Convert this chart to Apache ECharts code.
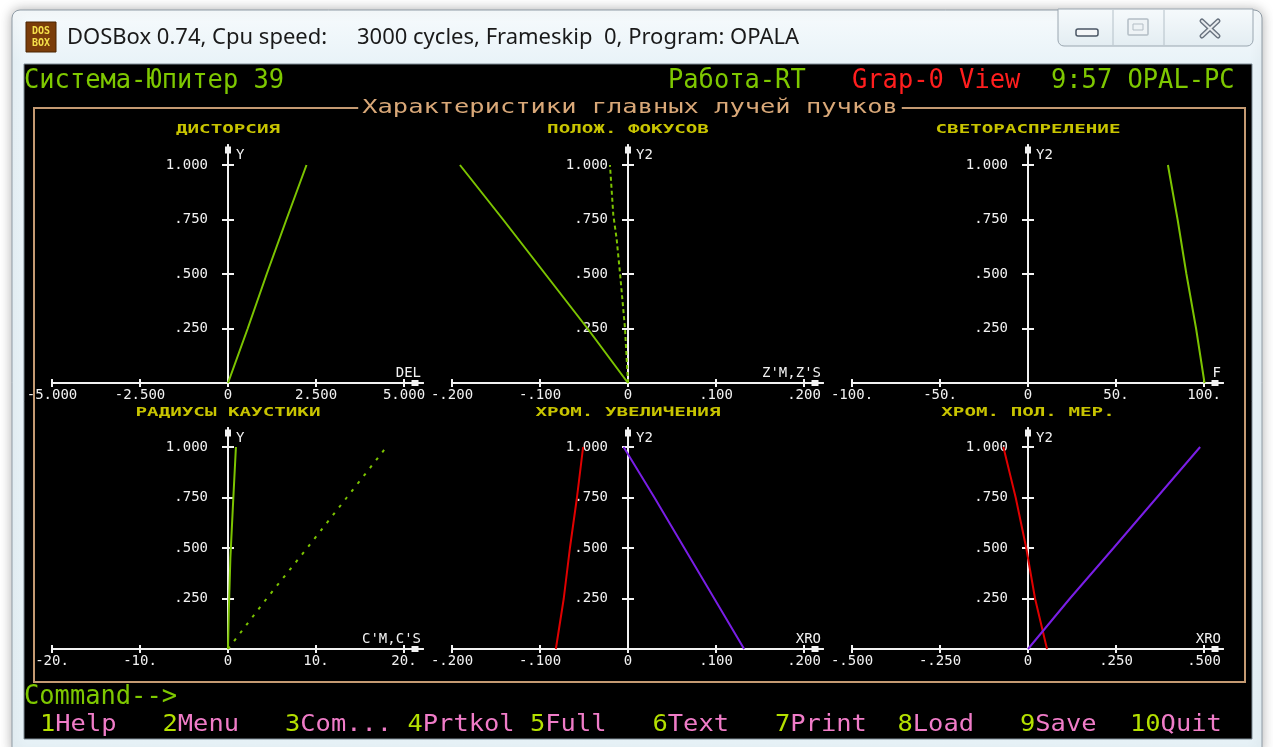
<!DOCTYPE html>
<html>
<head>
<meta charset="utf-8">
<title>OPALA - Характеристики главных лучей пучков</title>
<script src="https://cdn.jsdelivr.net/npm/echarts@6/dist/echarts.min.js"></script>
<style>
  html, body { margin: 0; padding: 0; background: #ffffff; }
  #chart { width: 1273px; height: 747px; }
</style>
</head>
<body>
<div id="chart"></div>
<script>
var yTicks = [0.25, 0.5, 0.75, 1.0];
var yTickLabels = ['.250', '.500', '.750', '1.000'];

// ДИСТОРСИЯ
var distortionTicks = [-5, -2.5, 0, 2.5, 5];
var distortionTickLabels = ['-5.000', '-2.500', '0', '2.500', '5.000'];
var distortion = [[0, 0], [0.56, 0.25], [1.1, 0.5], [1.66, 0.75], [2.23, 1.0]];

// ПОЛОЖ. ФОКУСОВ
var focusTicks = [-0.2, -0.1, 0, 0.1, 0.2];
var focusTickLabels = ['-.200', '-.100', '0', '.100', '.200'];
var focusM = [[0, 0], [-0.046, 0.25], [-0.094, 0.5], [-0.142, 0.75], [-0.191, 1.0]];
var focusS = [[0, 0], [-0.0034, 0.25], [-0.009, 0.5], [-0.013, 0.664], [-0.0167, 0.771], [-0.0205, 1.0]];

// СВЕТОРАСПРЕЛЕНИЕ
var lightTicks = [-100, -50, 0, 50, 100];
var lightTickLabels = ['-100.', '-50.', '0', '50.', '100.'];
var light = [[100.3, 0], [95.5, 0.25], [90, 0.5], [85, 0.75], [79.5, 1.0]];

// РАДИУСЫ КАУСТИКИ
var causticTicks = [-20, -10, 0, 10, 20];
var causticTickLabels = ['-20.', '-10.', '0', '10.', '20.'];
var causticM = [[0, 0], [0.1, 0.2], [0.27, 0.45], [0.55, 0.7], [0.9, 1.0]];
var causticS = [[0, 0], [4.4, 0.25], [9, 0.5], [13.5, 0.75], [18, 1.0]];

// ХРОМ. УВЕЛИЧЕНИЯ
var magnTicks = [-0.2, -0.1, 0, 0.1, 0.2];
var magnTickLabels = ['-.200', '-.100', '0', '.100', '.200'];
var magnRed = [[-0.082, 0], [-0.073, 0.25], [-0.066, 0.5], [-0.058, 0.75], [-0.051, 1.0]];
var magnBlue = [[0.132, 0], [0.098, 0.25], [0.064, 0.5], [0.03, 0.75], [-0.005, 1.0]];

// ХРОМ. ПОЛ. МЕР.
var posTicks = [-0.5, -0.25, 0, 0.25, 0.5];
var posTickLabels = ['-.500', '-.250', '0', '.250', '.500'];
var posRed = [[0.054, 0], [0.02, 0.25], [-0.005, 0.5], [-0.035, 0.75], [-0.07, 1.0]];
var posBlue = [[0, 0], [0.119, 0.25], [0.243, 0.5], [0.366, 0.75], [0.489, 1.0]];

var GREEN = '#7cc400';
var RED = '#e00000';
var VIOLET = '#7a1ee6';
var WHITE = '#f2f2f2';
var MONO = '"DejaVu Sans Mono", "Liberation Mono", monospace';

var rows = [
    { top: 145, height: 238, unit: 218, titleY: 130 },
    { top: 428, height: 221, unit: 202, titleY: 413 }
];

var panels = [
    { title: 'ДИСТОРСИЯ', axisX: 228, row: 0, ticks: distortionTicks, labels: distortionTickLabels,
      xName: 'DEL', yName: 'Y', lines: [{ data: distortion, color: GREEN }] },
    { title: 'ПОЛОЖ. ФОКУСОВ', axisX: 628, row: 0, ticks: focusTicks, labels: focusTickLabels,
      xName: "Z'M,Z'S", yName: 'Y2', lines: [{ data: focusM, color: GREEN }, { data: focusS, color: GREEN, type: [4, 3] }] },
    { title: 'СВЕТОРАСПРЕЛЕНИЕ', axisX: 1028, row: 0, ticks: lightTicks, labels: lightTickLabels,
      xName: 'F', yName: 'Y2', lines: [{ data: light, color: GREEN }] },
    { title: 'РАДИУСЫ КАУСТИКИ', axisX: 228, row: 1, ticks: causticTicks, labels: causticTickLabels,
      xName: "C'M,C'S", yName: 'Y', lines: [{ data: causticM, color: GREEN }, { data: causticS, color: GREEN, type: [3, 7] }] },
    { title: 'ХРОМ. УВЕЛИЧЕНИЯ', axisX: 628, row: 1, ticks: magnTicks, labels: magnTickLabels,
      xName: 'XRO', yName: 'Y2', lines: [{ data: magnRed, color: RED }, { data: magnBlue, color: VIOLET }] },
    { title: 'ХРОМ. ПОЛ. МЕР.', axisX: 1028, row: 1, ticks: posTicks, labels: posTickLabels,
      xName: 'XRO', yName: 'Y2', lines: [{ data: posRed, color: RED }, { data: posBlue, color: VIOLET }] }
];

function labelFn(values, labels) {
    return function (v) {
        var k = values.indexOf(v);
        return k < 0 ? '' : labels[k];
    };
}

var grids = [], xMain = [], xTwin = [], yMain = [], yTwin = [], series = [];

panels.forEach(function (p, i) {
    var row = rows[p.row];
    var half = 176, width = 371;
    grids.push({ left: p.axisX - half, top: row.top, width: width, height: row.height, outerBoundsMode: 'none' });
    var xmin = p.ticks[0], xmax = -p.ticks[0] * (width - half) / half;
    var ymax = row.height / row.unit;
    var axisLine = { color: WHITE, width: 2 };

    // ось X лежит на Y=0 (низ сетки); ось Y сдвигаем к X=0 через offset
    xMain.push({
        type: 'value', gridIndex: i, position: 'bottom', min: xmin, max: xmax,
        axisLine: { onZero: false, lineStyle: axisLine, symbol: ['none', 'rect'], symbolSize: [6, 7], symbolOffset: [0, -8] },
        axisTick: { customValues: p.ticks, length: 4, lineStyle: axisLine },
        axisLabel: { customValues: p.ticks, formatter: labelFn(p.ticks, p.labels), color: WHITE, fontFamily: MONO, fontSize: 14, margin: 5 },
        splitLine: { show: false },
        name: p.xName, nameLocation: 'end', nameGap: -2, nameMoveOverlap: false,
        nameTextStyle: { color: WHITE, fontFamily: MONO, fontSize: 14, align: 'right', verticalAlign: 'bottom', padding: [0, 0, 3, 0] }
    });
    xTwin.push({
        type: 'value', gridIndex: i, position: 'top', offset: -row.height, min: xmin, max: xmax,
        axisLine: { onZero: false, lineStyle: axisLine },
        axisTick: { customValues: p.ticks, length: 4, lineStyle: axisLine },
        axisLabel: { show: false },
        splitLine: { show: false }
    });
    yMain.push({
        type: 'value', gridIndex: i, position: 'left', offset: -half, min: 0, max: ymax,
        axisLine: { onZero: false, lineStyle: axisLine, symbol: ['none', 'rect'], symbolSize: [6, 7], symbolOffset: [0, -5] },
        axisTick: { customValues: yTicks, length: 6, lineStyle: axisLine },
        axisLabel: { customValues: yTicks, formatter: labelFn(yTicks, yTickLabels), color: WHITE, fontFamily: MONO, fontSize: 14, margin: 20 },
        splitLine: { show: false },
        name: p.yName, nameLocation: 'end', nameGap: -3, nameMoveOverlap: false,
        nameTextStyle: { color: WHITE, fontFamily: MONO, fontSize: 14, align: 'left', verticalAlign: 'top', padding: [0, 0, 0, 8] }
    });
    yTwin.push({
        type: 'value', gridIndex: i, position: 'right', offset: -(width - half), min: 0, max: ymax,
        axisLine: { onZero: false, lineStyle: axisLine },
        axisTick: { customValues: yTicks, length: 6, lineStyle: axisLine },
        axisLabel: { show: false },
        splitLine: { show: false }
    });

    p.lines.forEach(function (l) {
        series.push({
            type: 'line', xAxisIndex: i, yAxisIndex: i, data: l.data,
            symbol: 'none', showSymbol: false, silent: true, z: 5,
            lineStyle: { color: l.color, width: 2, type: l.type || 'solid' }
        });
    });
});

// DOS текст: сетка 80 колонок, ширина знака ~15.3px
function dosText(text, x, y, color, size, z) {
    return {
        type: 'text', x: x, y: y, z: z || 20, silent: true,
        scaleX: 15.3 / (0.602 * size),
        style: { text: text, fill: color, font: size + 'px ' + MONO, verticalAlign: 'middle' }
    };
}

var graphics = [
    // окно DOSBox
    { type: 'rect', z: -20, silent: true, shape: { x: 12, y: 10, width: 1250, height: 745, r: 8 },
      style: { fill: { type: 'linear', x: 0, y: 0, x2: 0, y2: 1, colorStops: [
          { offset: 0, color: '#f7fbfd' }, { offset: 0.07, color: '#e9f3f8' }, { offset: 1, color: '#e6f1f6' }] },
          stroke: '#8f9ba5', lineWidth: 1, shadowBlur: 12, shadowColor: 'rgba(0,0,0,0.3)' } },
    { type: 'rect', z: -19, silent: true, shape: { x: 24, y: 64, width: 1228, height: 675 },
      style: { fill: '#000000', stroke: '#7d8a94', lineWidth: 1 } },
    // иконка
    { type: 'rect', z: -18, silent: true, shape: { x: 26, y: 22, width: 30, height: 30 },
      style: { fill: '#7a3d0a', stroke: '#4a2400', lineWidth: 1 } },
    { type: 'text', z: -17, silent: true, x: 41, y: 31, style: { text: 'DOS', fill: '#f4e04a', font: 'bold 10px ' + MONO, align: 'center', verticalAlign: 'middle' } },
    { type: 'text', z: -17, silent: true, x: 41, y: 43, style: { text: 'BOX', fill: '#f4e04a', font: 'bold 10px ' + MONO, align: 'center', verticalAlign: 'middle' } },
    // заголовок окна
    { type: 'text', z: -17, silent: true, x: 67, y: 38, style: { text: 'DOSBox 0.74, Cpu speed:', fill: '#1a1a1a', font: '22px "Noto Sans"', verticalAlign: 'middle' } },
    { type: 'text', z: -17, silent: true, x: 357, y: 38, style: { text: '3000 cycles, Frameskip  0, Program: OPALA', fill: '#1a1a1a', font: '22px "Noto Sans"', verticalAlign: 'middle' } },
    // кнопки окна
    { type: 'rect', z: -18, silent: true, shape: { x: 1058, y: 9, width: 195, height: 37, r: [0, 0, 6, 6] },
      style: { fill: { type: 'linear', x: 0, y: 0, x2: 0, y2: 1, colorStops: [{ offset: 0, color: '#f6fafc' }, { offset: 1, color: '#e3edf2' }] },
          stroke: '#9aa6b0', lineWidth: 1 } },
    { type: 'line', z: -17, silent: true, shape: { x1: 1113, y1: 10, x2: 1113, y2: 45 }, style: { stroke: '#b4c0c8', lineWidth: 1 } },
    { type: 'line', z: -17, silent: true, shape: { x1: 1164, y1: 10, x2: 1164, y2: 45 }, style: { stroke: '#b4c0c8', lineWidth: 1 } },
    { type: 'rect', z: -17, silent: true, shape: { x: 1076, y: 29, width: 22, height: 7, r: 2 }, style: { fill: '#f4f6f8', stroke: '#4a5664', lineWidth: 1.5 } },
    { type: 'rect', z: -17, silent: true, shape: { x: 1128, y: 19, width: 20, height: 16, r: 1 }, style: { fill: '#eef3f6', stroke: '#b3bdc5', lineWidth: 1.5 } },
    { type: 'rect', z: -16, silent: true, shape: { x: 1133, y: 24, width: 10, height: 6 }, style: { fill: 'none', stroke: '#b3bdc5', lineWidth: 1 } },
    { type: 'polyline', z: -17, silent: true, shape: { points: [[1202, 21], [1218, 36]] }, style: { stroke: '#6a7480', lineWidth: 5, lineCap: 'round' } },
    { type: 'polyline', z: -17, silent: true, shape: { points: [[1218, 21], [1202, 36]] }, style: { stroke: '#6a7480', lineWidth: 5, lineCap: 'round' } },
    { type: 'polyline', z: -16, silent: true, shape: { points: [[1202, 21], [1218, 36]] }, style: { stroke: '#e8ecef', lineWidth: 2, lineCap: 'round' } },
    { type: 'polyline', z: -16, silent: true, shape: { points: [[1218, 21], [1202, 36]] }, style: { stroke: '#e8ecef', lineWidth: 2, lineCap: 'round' } },
    // рамка графиков
    { type: 'rect', z: 1, silent: true, shape: { x: 34, y: 108, width: 1211, height: 574 },
      style: { fill: 'none', stroke: '#c49a72', lineWidth: 2 } },
    {
        type: 'text', x: 630, y: 108, z: 21, silent: true, scaleX: 15.3 / (0.602 * 19),
        style: { text: 'Характеристики главных лучей пучков', fill: '#d9a878', font: '19px ' + MONO,
            align: 'center', verticalAlign: 'middle', backgroundColor: '#000000', padding: [2, 3] }
    },
    dosText('Система-Юпитер 39', 24, 81, '#7ec800', 26),
    dosText('Работа-RT', 668, 81, '#7ec800', 26),
    dosText('Grap-0 View', 852, 81, '#ff1e1e', 26),
    dosText('9:57 OPAL-PC', 1051, 81, '#7ec800', 26),
    dosText('Command-->', 24, 697, '#7ec800', 26)
];

var fkeys = [['1', 'Help'], ['2', 'Menu'], ['3', 'Com...'], ['4', 'Prtkol'], ['5', 'Full'],
    ['6', 'Text'], ['7', 'Print'], ['8', 'Load'], ['9', 'Save'], ['10', 'Quit']];
fkeys.forEach(function (k, i) {
    var x = i < 9 ? 40 + i * 122.5 : 1130;
    graphics.push(dosText(k[0], x, 725, '#b4e000', 23));
    graphics.push(dosText(k[1], x + k[0].length * 15.3, 725, '#f07cc8', 23));
});

panels.forEach(function (p) {
    graphics.push({
        type: 'text', x: p.axisX, y: rows[p.row].titleY, z: 20, silent: true, scaleX: 1.6,
        style: { text: p.title, fill: '#c8c400', font: 'bold 12px ' + MONO, align: 'center', verticalAlign: 'middle' }
    });
});

var chart = echarts.init(document.getElementById('chart'), null, { renderer: 'canvas' });
chart.setOption({
    backgroundColor: '#ffffff',
    animation: false,
    grid: grids,
    xAxis: xMain.concat(xTwin),
    yAxis: yMain.concat(yTwin),
    graphic: { elements: graphics },
    series: series
});
</script>
</body>
</html>
